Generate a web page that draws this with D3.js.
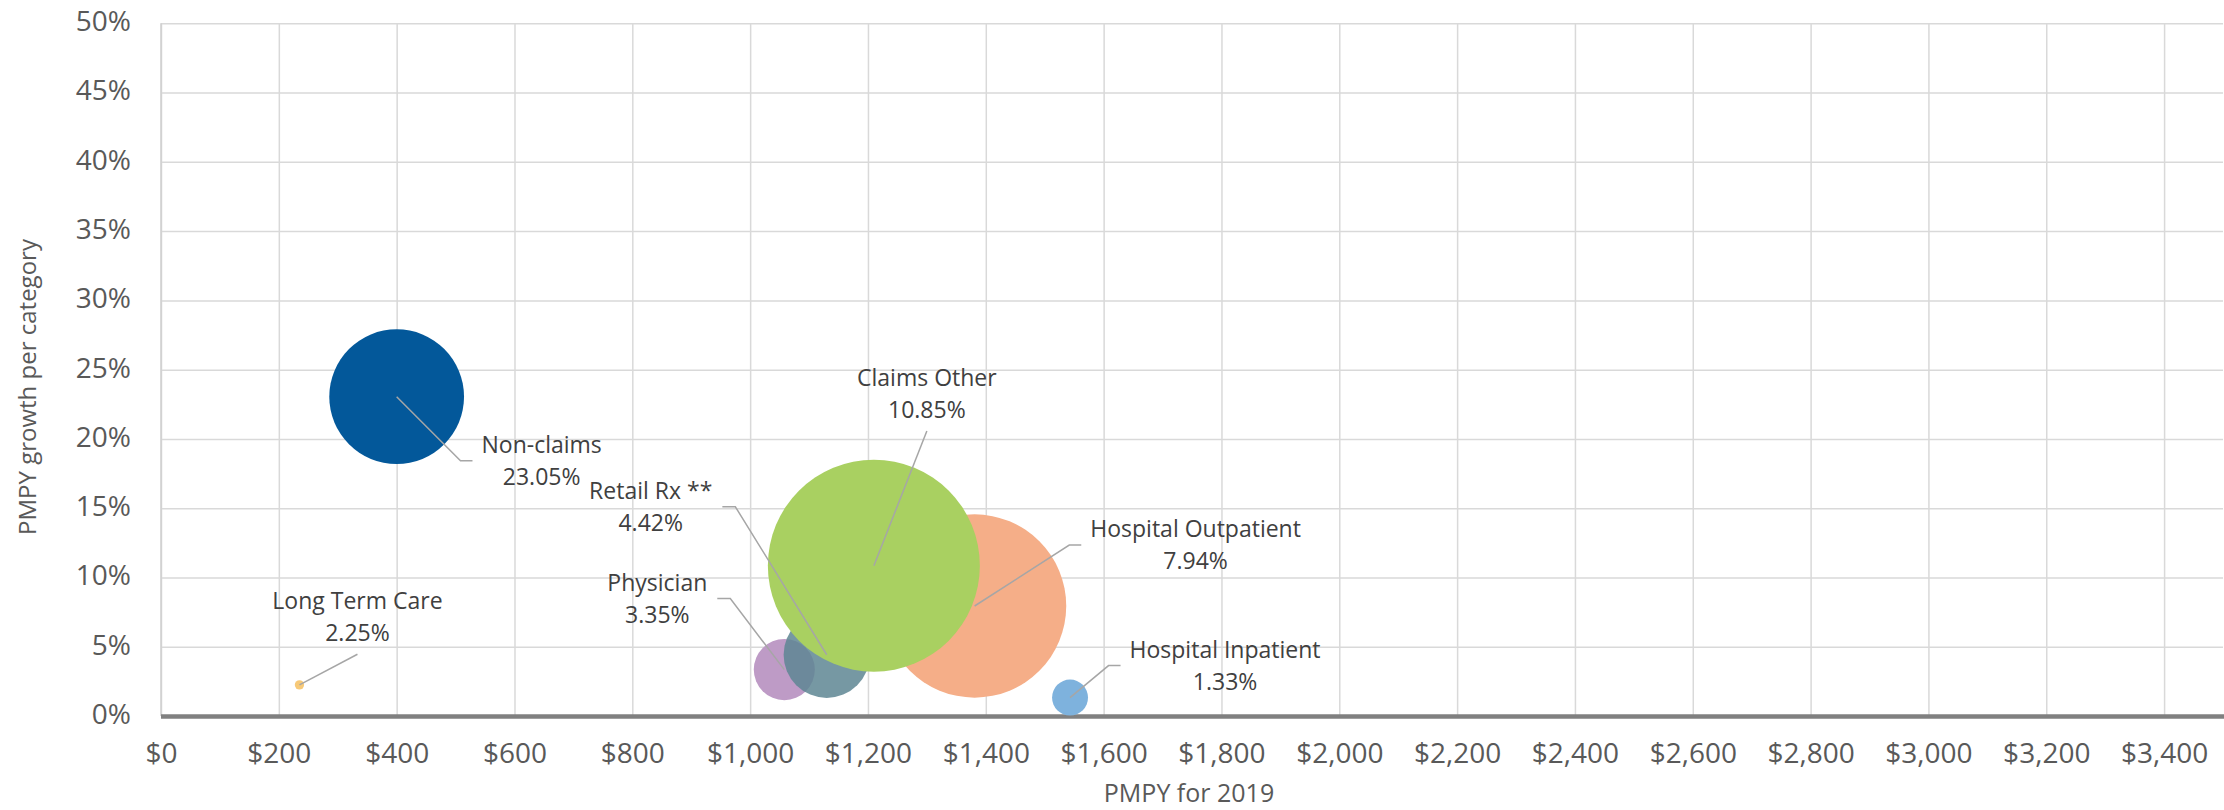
<!DOCTYPE html>
<html>
<head>
<meta charset="utf-8">
<title>PMPY growth per category</title>
<script src="https://cdn.jsdelivr.net/npm/d3@7"></script>
<style>
    html, body { margin: 0; padding: 0; background: #fff; }
    svg text { font-family: 'Open Sans', 'Noto Sans', sans-serif; }
</style>
</head>
<body>
<svg id="chart" width="2224" height="810"></svg>
<script>
(function () {
    'use strict';

    // --- Data ----------------------------------------------------------

    var categories = [
        'Non-claims', 'Long Term Care', 'Physician', 'Retail Rx **',
        'Hospital Outpatient', 'Claims Other', 'Hospital Inpatient'
    ];

    // PMPY for 2019 ($)
    var pmpy2019 = [400, 235, 1058, 1130, 1381, 1210, 1543];

    // PMPY growth per category
    var growth = [0.2305, 0.0225, 0.0335, 0.0442, 0.0794, 0.1085, 0.0133];

    // bubble size: PMPY increase ($), bubble width is proportional to it
    var bubbleSize = [75, 5.2, 34, 48, 102, 118, 20];

    var xTicks = [0, 200, 400, 600, 800, 1000, 1200, 1400, 1600, 1800,
        2000, 2200, 2400, 2600, 2800, 3000, 3200, 3400];
    var yTicks = [0, 0.05, 0.10, 0.15, 0.20, 0.25, 0.30, 0.35, 0.40, 0.45, 0.50];

    // --- Styles / layout -----------------------------------------------

    var colors = {
        'Non-claims': '#03589a',
        'Long Term Care': '#f7c978',
        'Physician': '#be9bc6',
        'Retail Rx **': '#5e8693',
        'Hospital Outpatient': '#f5ae88',
        'Claims Other': '#a9d061',
        'Hospital Inpatient': '#7eb2dd'
    };

    // only the Rx bubble lets the one below show through
    var opacity = { 'Retail Rx **': 0.85 };

    // label placement, pixel offsets from the bubble centre
    // dx: label centre, dy: first baseline, side: where the leader comes in
    var labelOffsets = {
        'Non-claims': { dx: 145, dy: 56, side: 'right' },
        'Long Term Care': { dx: 58, dy: -76, side: 'above' },
        'Physician': { dx: -127, dy: -79, side: 'left' },
        'Retail Rx **': { dx: -176, dy: -156, side: 'left' },
        'Hospital Outpatient': { dx: 221, dy: -69, side: 'right' },
        'Claims Other': { dx: 53, dy: -180, side: 'above' },
        'Hospital Inpatient': { dx: 155, dy: -40, side: 'right' }
    };

    var FONT = "'Open Sans', 'Noto Sans', sans-serif";

    var W = 2224, H = 810,
        plotL = 161, plotR = 2223, plotT = 23.3, plotB = 716,
        lineGap = 32.4;

    var svg, x, y, r, pct, money;

    // --- Scales --------------------------------------------------------

    function setUpScales() {
        x = d3.scaleLinear().domain([0, 3500]).range([plotL, plotR]);
        y = d3.scaleLinear().domain([0, 0.5]).range([plotB, plotT]);
        r = d3.scaleLinear().domain([0, 118]).range([0, 106]);
        pct = d3.format('.2%');
        money = d3.format('$,');
    }

    // --- Grid and axes -------------------------------------------------

    function styleAxis(g) {
        g.attr('font-family', null).attr('font-size', null);
        g.select('.domain').remove();
        g.selectAll('line').attr('stroke', '#d9d9d9').attr('stroke-width', 1.5);
        g.selectAll('text')
            .attr('fill', '#595959')
            .style('font-family', FONT)
            .style('font-size', '28px');
    }

    function drawGrid() {
        var gx = svg.append('g')
            .attr('transform', 'translate(0,' + plotB + ')')
            .call(d3.axisBottom(x).tickValues(xTicks)
                .tickSize(-(plotB - plotT)).tickFormat(money));
        styleAxis(gx);
        gx.selectAll('text').attr('y', 47).attr('dy', null);

        var gy = svg.append('g')
            .attr('transform', 'translate(' + plotL + ',0)')
            .call(d3.axisLeft(y).tickValues(yTicks)
                .tickSize(-(plotR - plotL)).tickFormat(d3.format('.0%')));
        styleAxis(gy);
        gy.selectAll('text').attr('x', -30).attr('dy', 7.4);

        // left axis line
        svg.append('line')
            .attr('x1', plotL).attr('x2', plotL)
            .attr('y1', plotT).attr('y2', plotB)
            .attr('stroke', '#cfcfcf').attr('stroke-width', 1.5);

        // horizontal axis (the heavy one)
        svg.append('line')
            .attr('x1', plotL).attr('x2', W)
            .attr('y1', plotB + 0.5).attr('y2', plotB + 0.5)
            .attr('stroke', '#808080').attr('stroke-width', 4.5);
    }

    function drawTitles() {
        svg.append('text')
            .attr('x', (plotL + plotR) / 2 - 3).attr('y', 802)
            .attr('text-anchor', 'middle')
            .attr('fill', '#595959')
            .style('font-family', FONT)
            .style('font-size', '25px')
            .text('PMPY for 2019');

        svg.append('text')
            .attr('transform', 'translate(36,387) rotate(-90)')
            .attr('text-anchor', 'middle')
            .attr('fill', '#595959')
            .style('font-family', FONT)
            .style('font-size', '24px')
            .text('PMPY growth per category');
    }

    // --- Bubbles -------------------------------------------------------

    function drawBubbles(points) {
        svg.append('g').attr('class', 'bubbles')
            .selectAll('circle')
            .data(points)
            .enter().append('circle')
            .attr('cx', function (d) { return x(d.pmpy); })
            .attr('cy', function (d) { return y(d.growth); })
            .attr('r', function (d) { return r(d.size); })
            .attr('fill', function (d) { return colors[d.name]; })
            .attr('fill-opacity', function (d) { return opacity[d.name] || 1; });
    }

    function drawLabels(points) {
        var leaders = svg.append('g').attr('class', 'leaders'),
            labels = svg.append('g').attr('class', 'labels');

        points.forEach(function (d) {
            var off = labelOffsets[d.name],
                cx = x(d.pmpy), cy = y(d.growth),
                lx = cx + off.dx, ly = cy + off.dy,
                t, w, pts, ey;

            t = labels.append('text')
                .attr('text-anchor', 'middle')
                .attr('fill', '#404040')
                .style('font-family', FONT)
                .style('font-size', '23px');
            t.append('tspan').attr('x', lx).attr('y', ly).text(d.name);
            t.append('tspan').attr('x', lx).attr('y', ly + lineGap).text(pct(d.growth));

            w = t.node().getBBox().width;
            ey = ly + 8;

            if (off.side === 'right') {
                pts = [[cx, cy], [lx - w / 2 - 21, ey], [lx - w / 2 - 9, ey]];
            } else if (off.side === 'left') {
                pts = [[cx, cy], [lx + w / 2 + 23, ey], [lx + w / 2 + 10, ey]];
            } else {
                pts = [[cx, cy], [lx, ly + lineGap + 13]];
            }

            leaders.append('path')
                .attr('d', d3.line()(pts))
                .attr('fill', 'none')
                .attr('stroke', '#a6a6a6')
                .attr('stroke-width', 1.5);
        });
    }

    // --- Main ----------------------------------------------------------

    svg = d3.select('#chart').attr('viewBox', '0 0 ' + W + ' ' + H);

    var points = categories.map(function (name, i) {
        return { name: name, pmpy: pmpy2019[i], growth: growth[i], size: bubbleSize[i] };
    });

    setUpScales();
    drawGrid();
    drawTitles();
    drawBubbles(points);
    drawLabels(points);
}());
</script>
</body>
</html>
